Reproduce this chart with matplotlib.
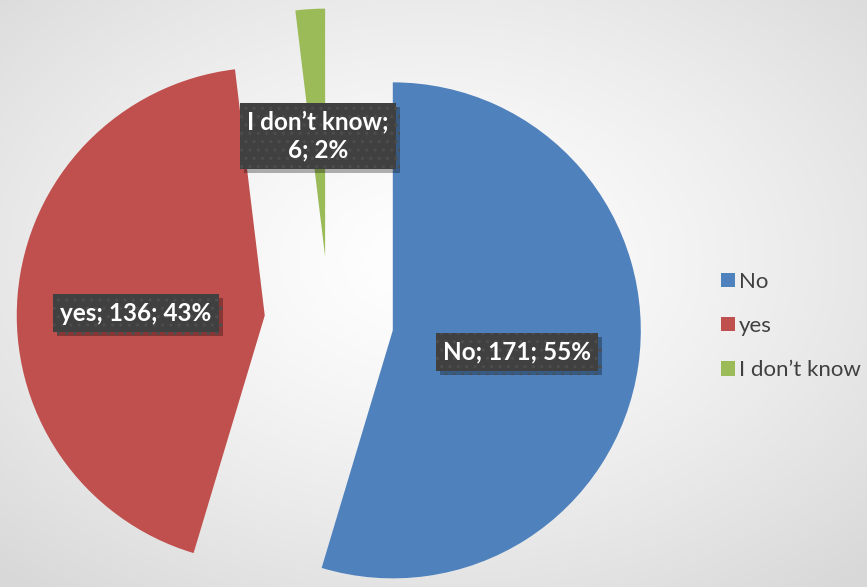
import numpy as np
import matplotlib
matplotlib.use('Agg')
import matplotlib.pyplot as plt
import matplotlib.patheffects as pe

# chart data
labels = ['No', 'yes', 'I don\u2019t know']
counts = [171, 136, 6]
percents = ['55%', '43%', '2%']
colors = ['#4F81BD', '#C0504D', '#9BBB59']

W, H = 867, 587
R = 248.0          # pie radius in px
cx, cy = 329, 321  # pie centre in px (from top-left)

fig = plt.figure(figsize=(W / 100, H / 100), dpi=100)

# radial gradient background
bg = fig.add_axes([0, 0, 1, 1])
yy, xx = np.mgrid[0:H, 0:W]
d = np.hypot((xx - 430) / W, (yy - 260) / H)
d = np.clip(d / 0.72, 0, 1)
shade = 1.0 - 0.15 * d ** 1.3
bg.imshow(np.dstack([shade] * 3), extent=[0, 1, 0, 1], aspect='auto')
bg.axis('off')

ax = fig.add_axes([0, 0, 1, 1])
ax.patch.set_alpha(0)

wedges, _ = ax.pie(counts, colors=colors, startangle=90, counterclock=False,
                   explode=[0.26, 0.26, 0.26], radius=1.0,
                   wedgeprops=dict(linewidth=0))
ax.set_xlim(-cx / R, (W - cx) / R)
ax.set_ylim(-(H - cy) / R, cy / R)
ax.set_aspect('equal')
ax.axis('off')

plt.rcParams['hatch.linewidth'] = 1.2
label_pos = [(517, 352), (136, 313), (318, 136)]
label_txt = [f'{labels[0]}; {counts[0]}; {percents[0]}',
             f'{labels[1]}; {counts[1]}; {percents[1]}',
             f'{labels[2]};\n{counts[2]}; {percents[2]}']
for (px, py), txt in zip(label_pos, label_txt):
    t = ax.text((px - cx) / R, (cy - py) / R, txt, ha='center', va='center',
                color='white', fontsize=17.5, fontweight='bold', family='Lato',
                linespacing=1.3,
                bbox=dict(boxstyle='square,pad=0.3', facecolor='#404040',
                          edgecolor='#4c4c4c', linewidth=0, hatch='..'))
    t.get_bbox_patch().set_path_effects(
        [pe.SimplePatchShadow(offset=(3, -3), shadow_rgbFace='black', alpha=0.3),
         pe.Normal()])

# legend
leg = ax.legend(wedges, labels, loc='center left', bbox_to_anchor=(721 / W, 1 - 326 / H),
                bbox_transform=fig.transFigure, frameon=False, fontsize=16,
                handlelength=0.62, handleheight=0.62, handletextpad=0.2,
                labelspacing=1.1, borderpad=0, borderaxespad=0)
for txt in leg.get_texts():
    txt.set_color('#404040')
    txt.set_family('Lato')

fig.savefig('out.png', dpi=100)
